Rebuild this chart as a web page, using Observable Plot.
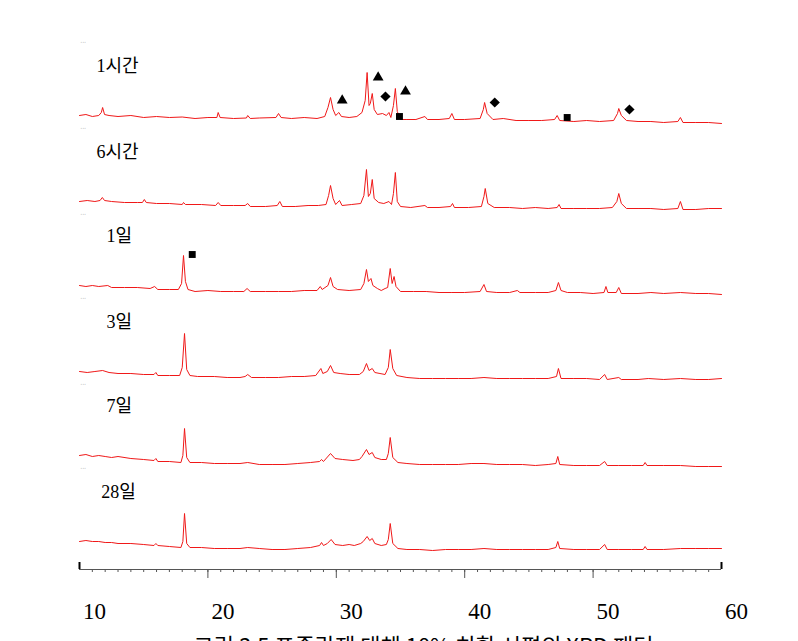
<!DOCTYPE html>
<html>
<head>
<meta charset="utf-8">
<script src="https://cdn.jsdelivr.net/npm/d3@7"></script>
<script src="https://cdn.jsdelivr.net/npm/@observablehq/plot@0.6"></script>
<style>
  html, body { margin: 0; padding: 0; background: #fff; overflow: hidden; }
  #chart svg { display: block; }
</style>
</head>
<body>
<div id="chart"></div>
<script>
// ---- data (2θ in degrees, intensity relative to each pattern's baseline) ----
const seriesNames = ["1시간", "6시간", "1일", "3일", "7일", "28일"];
const seriesOffsets = [485, 399, 315, 229, 145, 59];

const pattern1h = [
  [10.0,0],[10.5,1],[11.0,-1],[11.5,0],[11.7,3],[11.8,8],[11.95,1],[12.3,0],[13.0,-1],[14,0],[15,-2],[16,-1],[17,-2],[18,-1.5],[19,-3],[20,-2],[20.7,-2],[20.8,3],[20.95,-2],[22,-3],[23,-2.5],[23.1,0],[23.3,-3],[24,-2.5],[25.3,-2],[25.5,2],[25.7,-2],[26.5,-3],[27.5,-2],[28.5,-3],[29.1,-1],[29.35,8],[29.55,18],[29.75,6],[29.95,0],[30.2,3],[30.4,-1],[31,-2],[31.6,-1],[32.0,3],[32.25,15],[32.4,43],[32.55,10],[32.65,12],[32.8,22],[32.95,6],[33.2,1],[33.6,2],[33.9,0],[34.1,3],[34.25,-2],[34.45,10],[34.6,27],[34.75,4],[35.0,-4],[35.5,-4],[36.2,-4],[36.9,-1],[37.1,-4],[38,-4],[38.8,-3],[39.0,2],[39.2,-4],[40,-4],[41.2,-3],[41.45,6],[41.55,13],[41.75,2],[42.2,-4],[43.0,-3],[44,-5],[45,-5],[46,-5],[47.0,-4],[47.2,0],[47.4,-5],[48.5,-6],[49.5,-5],[50.5,-6],[51.6,-5],[51.9,2],[52.0,7],[52.2,0],[52.6,-5],[53.5,-6],[54.5,-6],[55.5,-7],[56.6,-6],[56.8,-2],[57.0,-7],[58,-7],[59,-7],[60,-8]
];
const pattern6h = [
  [10.0,0],[10.6,1],[11.2,0],[11.6,1],[11.78,4],[11.95,1],[12.5,0],[13.5,-1],[14.5,-1],[14.9,-1],[15.05,2],[15.2,-1],[16,-2],[17,-2],[18.0,-3],[18.1,-1],[18.25,-3],[19.5,-3],[20.6,-4],[20.8,-1],[21.0,-4],[22,-4],[22.9,-4],[23.1,-2],[23.3,-5],[24.5,-5],[25.4,-4],[25.6,0],[25.8,-5],[26.8,-5],[27.8,-4],[28.6,-4],[29.2,-3],[29.4,6],[29.55,16],[29.75,3],[29.95,-3],[30.25,1],[30.45,-4],[31.2,-3],[31.9,-2],[32.15,6],[32.35,32],[32.5,5],[32.65,8],[32.8,22],[32.95,3],[33.3,-1],[33.7,-2],[34.1,0],[34.3,-3],[34.45,8],[34.6,29],[34.75,0],[35,-5],[35.8,-6],[36.9,-4],[37.1,-6],[38,-6],[38.9,-5],[39.05,-2],[39.2,-6],[40.3,-6],[41.3,-5],[41.5,5],[41.6,13],[41.8,-2],[42.3,-6],[43.5,-6],[44.5,-7],[45.5,-6],[46.5,-7],[47.2,-6],[47.35,-3],[47.5,-7],[48.5,-7],[49.5,-7],[50.5,-7],[51.5,-6],[51.85,0],[52.0,8],[52.2,-2],[52.6,-7],[53.5,-7],[54.5,-7],[55.5,-8],[56.6,-7],[56.8,0],[57.0,-8],[58,-8],[59,-7],[60,-7]
];
const pattern1d = [
  [10,0],[10.5,-1],[11,0],[11.5,-1],[12.2,0],[12.5,-2],[13.5,-2],[14.5,-2],[15.5,-3],[15.85,-1],[16.1,-4],[17.0,-4],[17.7,-4],[17.95,2],[18.1,30],[18.25,4],[18.45,-4],[19,-6],[20,-5],[21,-6],[22,-6],[22.8,-6],[23.05,-3],[23.3,-6],[24.5,-6],[25.5,-6],[26.5,-6],[27.5,-5],[28.5,-5],[28.75,-1],[28.9,-4],[29.35,0],[29.55,8],[29.75,-1],[30.1,-4],[31,-5],[31.9,-4],[32.15,2],[32.35,16],[32.5,4],[32.7,7],[32.85,0],[33.2,-3],[33.5,-5],[33.8,-3],[34.0,-2],[34.2,17],[34.35,2],[34.5,9],[34.65,-1],[35,-6],[36,-6],[37,-6],[38,-7],[39,-7],[40,-7],[41.2,-6],[41.5,1],[41.7,-6],[42.5,-7],[43.5,-7],[44.1,-5],[44.3,-7],[45.5,-7],[46.5,-7],[47.1,-5],[47.3,3],[47.5,-5],[48,-7],[49,-7],[50,-8],[50.85,-7],[51.0,-1],[51.15,-7],[51.8,-7],[52.0,-2],[52.2,-8],[53.5,-8],[54.5,-7],[55.5,-8],[56.8,-7],[58,-8],[59,-8],[60,-9]
];
const pattern3d = [
  [10,0],[10.6,-1],[11.2,0],[11.8,1],[12.3,-1],[13,-2],[14,-2],[15,-3],[15.8,-3],[15.95,-1],[16.1,-4],[17,-4],[17.8,-4],[18.0,4],[18.18,38],[18.35,2],[18.6,-4],[19.2,-5],[20.5,-5],[21.5,-6],[22.5,-6],[22.9,-5],[23.1,-3],[23.4,-6],[24.5,-6],[25.5,-6],[26.5,-5],[27.5,-5],[28.4,-4],[28.8,3],[28.95,-2],[29.3,0],[29.55,6],[29.8,-1],[30.3,-2],[31.0,-3],[31.8,-3],[32.1,0],[32.35,8],[32.55,1],[32.8,3],[33.0,-1],[33.4,-2],[33.8,-3],[34.05,4],[34.2,22],[34.4,3],[34.7,-4],[35.5,-6],[36.5,-7],[37.5,-7],[38.5,-7],[39.5,-7],[40.5,-7],[41.5,-6],[42.5,-7],[43.5,-7],[44.5,-7],[45.5,-7],[46.5,-7],[47.15,-5],[47.3,3],[47.5,-7],[48.5,-7],[49.5,-7],[50.5,-8],[50.9,-3],[51.1,-8],[52.0,-6],[52.2,-8],[53.5,-8],[54.3,-7],[55.5,-8],[56.8,-7],[58,-8],[59,-8],[60,-7]
];
const pattern7d = [
  [10,0],[10.5,1],[11,-1],[11.5,0],[12,-1],[12.5,-2],[13,-1],[14,-3],[15,-4],[15.8,-5],[15.95,-3],[16.1,-6],[17,-6],[17.9,-7],[18.05,0],[18.18,27],[18.35,-2],[18.6,-7],[19.5,-7],[20.5,-8],[21.5,-8],[22.5,-8],[23.1,-7],[24,-9],[25,-9],[26,-9],[27,-8],[28,-7],[28.7,-6],[28.85,-4],[29.0,-6],[29.55,2],[29.9,-3],[30.5,-4],[31.3,-5],[31.8,-4],[32.0,-1],[32.35,6],[32.55,1],[32.8,3],[33.0,-2],[33.5,-4],[33.9,-4],[34.05,2],[34.2,18],[34.4,-2],[34.8,-7],[35.5,-8],[36.5,-9],[37.5,-9],[38.5,-9],[39.5,-9],[40.5,-8],[41.5,-8],[42.5,-9],[43.5,-9],[44.5,-9],[45.5,-10],[46.5,-9],[47.1,-8],[47.25,-1],[47.4,-9],[48.5,-10],[49.5,-10],[50.5,-10],[50.9,-6],[51.1,-10],[52,-10],[53,-10],[53.9,-10],[54.05,-7],[54.2,-10],[55.5,-10],[56.8,-10],[58,-11],[59,-11],[60,-11]
];
const pattern28d = [
  [10,0],[10.5,1],[11,0],[11.5,0],[12,-1],[12.5,-1],[13,-2],[14,-2],[15,-3],[15.8,-4],[15.95,-2],[16.1,-4],[17,-5],[17.9,-6],[18.05,0],[18.18,28],[18.35,-2],[18.6,-6],[19.5,-6],[20.5,-7],[21.5,-7],[22.5,-7],[23.1,-6],[24,-7],[25,-8],[26,-8],[27,-7],[28,-6],[28.7,-4],[28.85,-1],[29.0,-4],[29.3,-2],[29.6,2],[29.9,-3],[30.5,-4],[31,-3],[31.4,-4],[31.9,-2],[32.1,0],[32.4,5],[32.6,1],[32.8,3],[33.0,-2],[33.5,-4],[33.9,-3],[34.05,2],[34.2,18],[34.4,-2],[34.8,-7],[35.5,-8],[36.5,-8],[37.5,-9],[38.5,-8],[39.5,-8],[40.5,-8],[41.5,-7],[42.5,-8],[43.5,-8],[44.5,-8],[45.5,-8],[46.5,-8],[47.1,-6],[47.25,0],[47.4,-7],[48.5,-8],[49.5,-8],[50.5,-8],[50.9,-3],[51.1,-8],[52,-8],[53,-8],[53.9,-8],[54.05,-5],[54.2,-8],[55.5,-8],[56.8,-7],[58,-7],[59,-7],[60,-7]
];
const patterns = [pattern1h, pattern6h, pattern1d, pattern3d, pattern7d, pattern28d];

// phase markers: [series index, 2θ, intensity above baseline]
const triangleMarks = [[0,30.46,15],[0,33.26,38],[0,35.39,24]];
const diamondMarks  = [[0,33.83,19],[0,42.34,13],[0,52.83,6]];
const squareMarks   = [[0,34.92,-1],[0,47.98,-2],[2,18.78,31]];

const xTicksMinor = d3.range(11, 60, 1);
const xTicksMajor = [20, 30, 40, 50];
const xTickLabels = [10, 20, 30, 40, 50, 60];
const caption = "그림 3.5 포졸란재 대체 10% 치환 시편의 XRD 패턴";

// ---- layout ----
const labelX = [11.32, 11.32, 12.1, 12.1, 12.1, 11.7];
const labelDy = 44;

const rows = [];
patterns.forEach((p, i) => p.forEach(([x, v]) => rows.push({series: seriesNames[i], x, y: seriesOffsets[i] + v})));
const toMark = ([i, x, v]) => ({x, y: seriesOffsets[i] + v});
const labels = seriesNames.map((s, i) => ({s, x: labelX[i], y: seriesOffsets[i] + labelDy}));
const faint = [seriesOffsets[0] + 73, ...seriesOffsets.slice(0, 5).map(o => o - 13)];

const serif = "'Liberation Serif', 'Noto Sans CJK KR', serif";

const chart = Plot.plot({
  width: 798,
  height: 641,
  marginLeft: 79,
  marginRight: 77,
  marginTop: 40,
  marginBottom: 72,
  style: {background: "#fff", overflow: "visible"},
  x: {domain: [10, 60], label: null},
  y: {domain: [31, 560], label: null, axis: null},
  marks: [
    Plot.line(rows, {x: "x", y: "y", z: "series", stroke: "#f01818", strokeWidth: 1}),
    Plot.dot(triangleMarks.map(toMark), {x: "x", y: "y", symbol: "triangle", r: 4, fill: "#000", stroke: "none"}),
    Plot.dot(diamondMarks.map(toMark), {x: "x", y: "y", symbol: "diamond2", r: 4.6, fill: "#000", stroke: "none"}),
    Plot.dot(squareMarks.map(toMark), {x: "x", y: "y", symbol: "square", r: 3.9, fill: "#000", stroke: "none"}),
    Plot.text(labels, {x: "x", y: "y", text: "s", textAnchor: "start", lineAnchor: "bottom", fontSize: 18, fontFamily: serif, fill: "#000"}),
    Plot.text(faint, {x: () => 10.1, y: d => d, text: () => "▪ ▪ ▪", textAnchor: "start", fontSize: 3, fill: "#aaa"}),
    // x axis
    Plot.ruleY([31], {x1: 10, x2: 60, stroke: "#555", strokeWidth: 1.2}),
    Plot.axisX({ticks: xTicksMinor, tickSize: 3, tickFormat: () => "", stroke: "#555", label: null}),
    Plot.axisX({ticks: xTicksMajor, tickSize: 9, tickFormat: () => "", stroke: "#555", label: null}),
    Plot.ruleX([10, 60], {y1: 31, y2: 38, stroke: "#000", strokeWidth: 2}),
    Plot.text(xTickLabels, {x: d => d, frameAnchor: "bottom", dy: 42, dx: 15, text: d => String(d), lineAnchor: "middle", fontSize: 23, fontFamily: serif, fill: "#000"}),
    Plot.text([caption], {frameAnchor: "bottom", dx: 23, dy: 84, text: d => d, lineAnchor: "bottom", fontSize: 22, fontFamily: "'Noto Sans CJK KR', sans-serif", fill: "#000"})
  ]
});
document.getElementById("chart").appendChild(chart);
</script>
</body>
</html>
